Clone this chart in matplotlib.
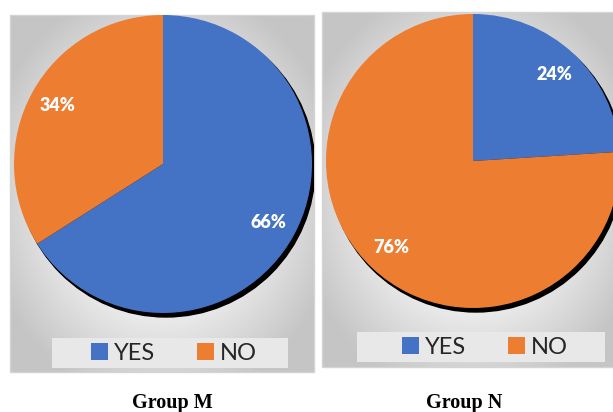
import matplotlib.pyplot as plt
import numpy as np
from matplotlib.patches import Circle, Rectangle

categories = ["YES", "NO"]
group_names = ["Group M", "Group N"]
yes_pct = [66, 24]
no_pct = [34, 76]

colors = ["#4472C4", "#ED7D31"]

W, H = 613, 412

# pixel layout, top-left origin
panels = [
    dict(frame=(10, 15, 304, 357), center=(163, 164), radius=149,
         legend=(52, 338, 236, 30), title_x=172),
    dict(frame=(322, 12, 300, 355), center=(473, 161), radius=147,
         legend=(357, 332, 248, 30), title_x=464),
]


def gray_backdrop(n=200):
    yy, xx = np.mgrid[-1:1:n * 1j, -1:1:n * 1j]
    d = np.sqrt(xx ** 2 + yy ** 2)
    return 0.99 - 0.22 * np.clip((d - 0.45) / 0.75, 0, 1)


fig = plt.figure(figsize=(W / 100, H / 100), dpi=100)
ax = fig.add_axes([0, 0, 1, 1])

legends = []
for i, p in enumerate(panels):
    fx, fy, fw, fh = p["frame"]
    cx, cy = p["center"]
    r = p["radius"]

    ax.imshow(gray_backdrop(), cmap="gray", vmin=0, vmax=1, interpolation="bilinear",
              extent=(fx, fx + fw, H - (fy + fh), H - fy), zorder=0)
    ax.add_patch(Rectangle((fx, H - (fy + fh)), fw, fh, fill=False,
                           edgecolor="#d4d4d4", lw=1, zorder=1))
    clip = Rectangle((fx, H - (fy + fh)), fw, fh, transform=ax.transData)

    # drop shadow under the pie
    shadow = Circle((cx + 3, H - cy - 4), r, color="black", zorder=1.5)
    ax.add_patch(shadow)
    shadow.set_clip_path(clip)

    wedges, _, pct_texts = ax.pie(
        [yes_pct[i], no_pct[i]], colors=colors, startangle=90, counterclock=False,
        center=(cx, H - cy), radius=r, frame=True,
        autopct=lambda v: f"{v:.0f}%", pctdistance=0.81,
        wedgeprops=dict(linewidth=0, zorder=2),
        textprops=dict(color="white", fontsize=13, fontweight="heavy", family="Lato"),
    )
    for w in wedges:
        w.set_zorder(2)
        w.set_clip_path(clip)
    for t in pct_texts:
        t.set_zorder(3)

    lx, ly, lw, lh = p["legend"]
    ax.add_patch(Rectangle((lx, H - (ly + lh)), lw, lh, facecolor="#e8e8e8",
                           edgecolor="none", zorder=2))
    leg = ax.legend(wedges, categories, ncol=2, loc="center",
                    bbox_to_anchor=(lx + lw / 2 + 4, H - (ly + lh / 2)),
                    bbox_transform=ax.transData, frameon=False,
                    prop=dict(family="Lato", size=17), labelcolor="#262626",
                    handlelength=0.7, handleheight=0.7, handletextpad=0.25,
                    columnspacing=1.8, borderpad=0)
    leg.set_zorder(4)
    legends.append(leg)

    ax.text(p["title_x"], H - 403, group_names[i], ha="center", va="center",
            fontsize=14.5, fontweight="bold", family="Liberation Serif", color="black")

for leg in legends[:-1]:
    ax.add_artist(leg)

ax.set_xlim(0, W)
ax.set_ylim(0, H)
ax.set_aspect("equal")
ax.axis("off")

fig.savefig("out.png", dpi=100, facecolor="white")
